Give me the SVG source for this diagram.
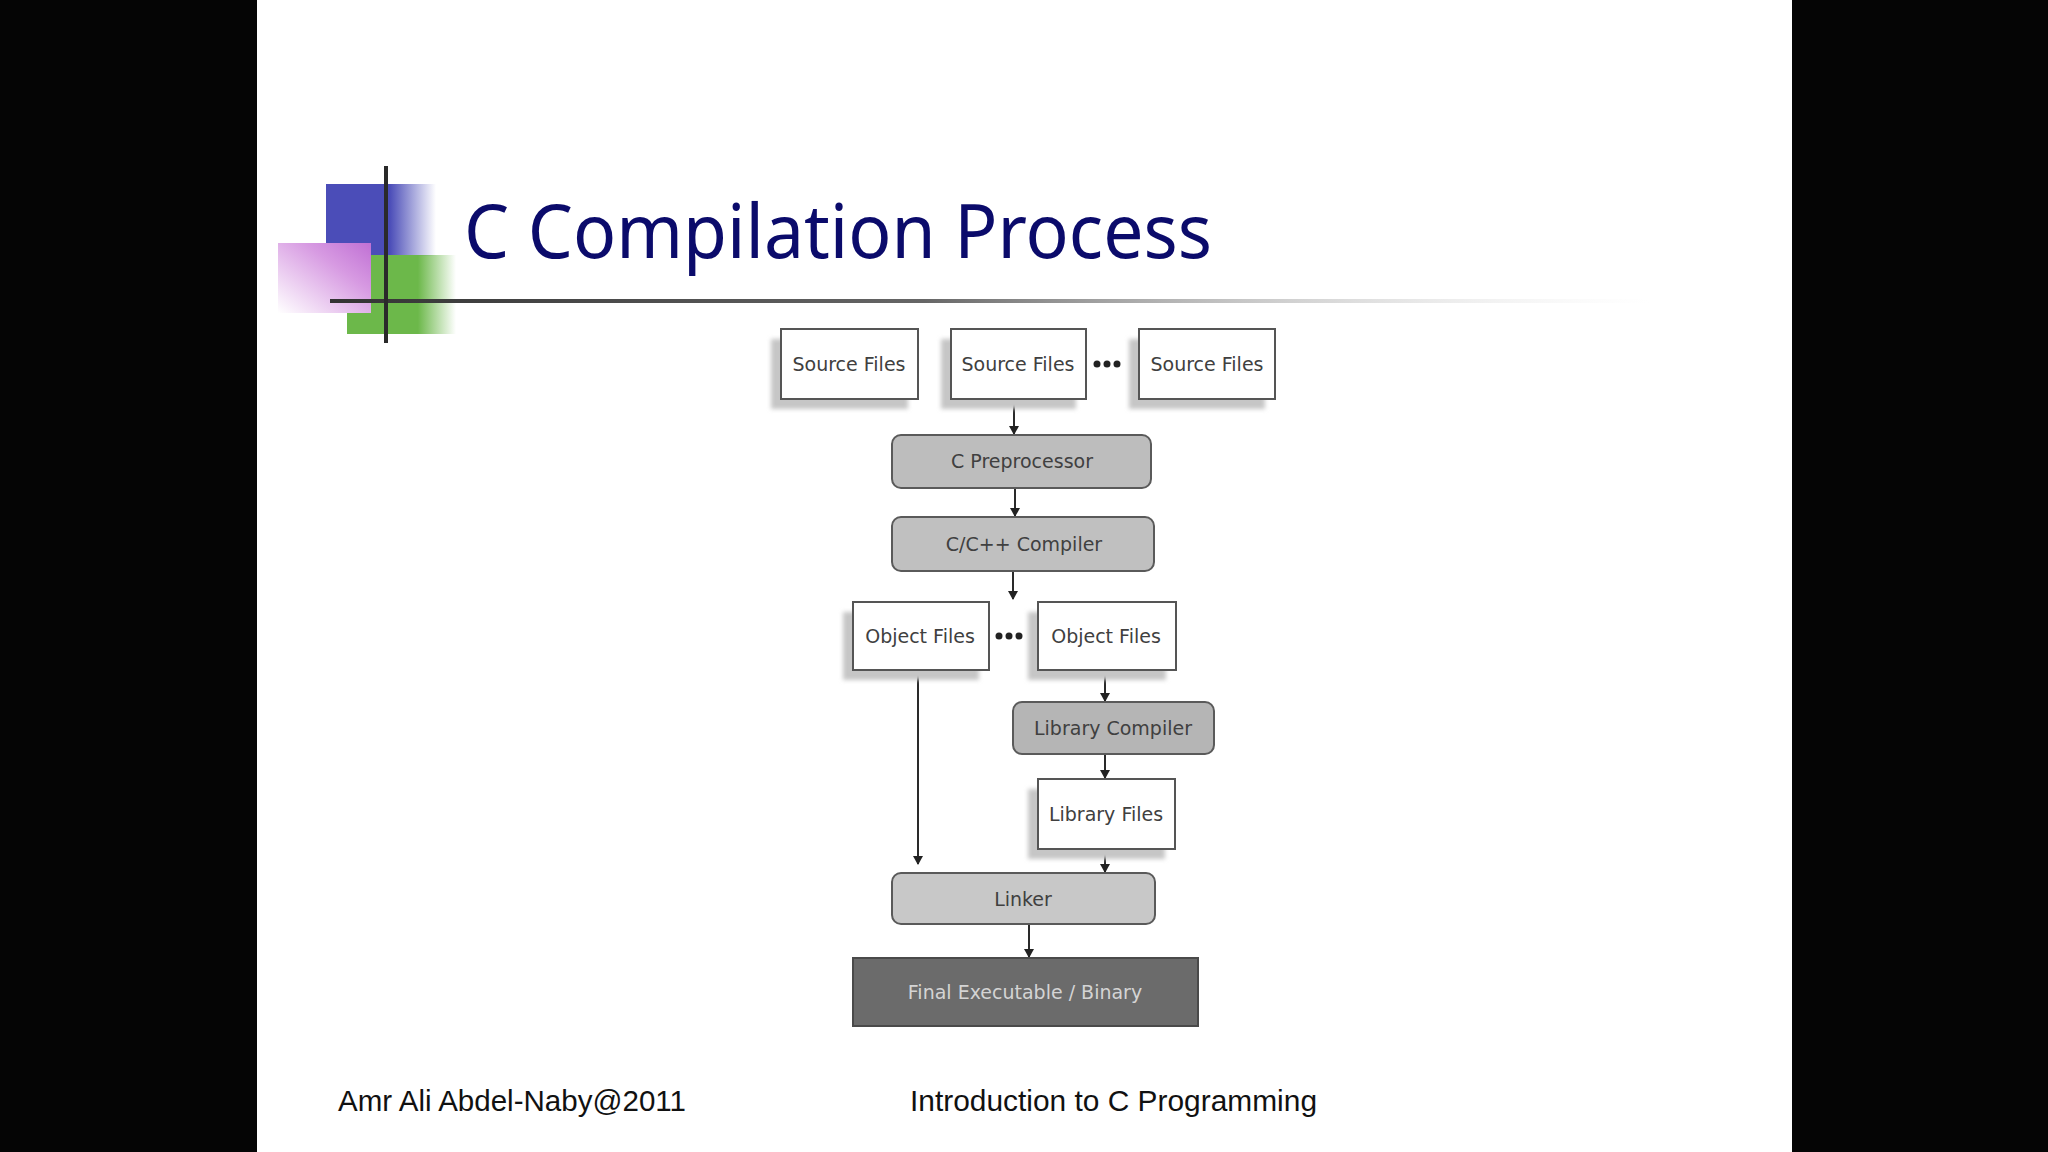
<svg xmlns="http://www.w3.org/2000/svg" width="2048" height="1152" viewBox="0 0 2048 1152">
<defs>
  <style>
    .box{fill:#ffffff;stroke:#555555;stroke-width:2}
    .proc{fill:#bdbdbd;stroke:#5a5a5a;stroke-width:2}
    .shadow{fill:#c6c6c6;filter:url(#blur)}
    .lbl{font-family:"DejaVu Sans",Verdana,sans-serif;font-size:19px;fill:#404040;text-anchor:middle}
    .conn{stroke:#2a2a2a;stroke-width:2;fill:none;marker-end:url(#arr)}
    .dot{fill:#222222}
    .foot{font-family:"Liberation Sans",Arial,sans-serif;font-size:30px;fill:#111111}
  </style>
  <filter id="blur" x="-20%" y="-20%" width="140%" height="140%"><feGaussianBlur stdDeviation="2"/></filter>
  <marker id="arr" markerWidth="10" markerHeight="10" refX="8" refY="5" orient="auto" markerUnits="userSpaceOnUse">
    <path d="M0,0 L9,5 L0,10 z" fill="#222222"/>
  </marker>
  <linearGradient id="gBlue" x1="0" y1="0" x2="1" y2="0">
    <stop offset="0" stop-color="#4b4db8"/>
    <stop offset="0.58" stop-color="#4b4db8"/>
    <stop offset="1" stop-color="#4b4db8" stop-opacity="0"/>
  </linearGradient>
  <linearGradient id="gGreen" x1="0" y1="0" x2="1" y2="0">
    <stop offset="0" stop-color="#6cb84a"/>
    <stop offset="0.65" stop-color="#6cb84a"/>
    <stop offset="1" stop-color="#6cb84a" stop-opacity="0"/>
  </linearGradient>
  <linearGradient id="gPink" x1="1" y1="0" x2="0" y2="1">
    <stop offset="0" stop-color="#c070d4"/>
    <stop offset="0.35" stop-color="#d79ae2"/>
    <stop offset="1" stop-color="#ffffff"/>
  </linearGradient>
  <linearGradient id="gLine" x1="0" y1="0" x2="1" y2="0">
    <stop offset="0" stop-color="#333333"/>
    <stop offset="0.45" stop-color="#666666"/>
    <stop offset="1" stop-color="#dddddd" stop-opacity="0"/>
  </linearGradient>
</defs>

<rect x="0" y="0" width="2048" height="1152" fill="#050505"/>
<rect x="257" y="0" width="1535" height="1152" fill="#ffffff"/>

<g id="decoration">
  <rect x="326" y="184" width="110" height="72" fill="url(#gBlue)"/>
  <rect x="347" y="255" width="109" height="79" fill="url(#gGreen)"/>
  <rect x="278" y="243" width="93" height="70" fill="url(#gPink)"/>
  <rect x="330" y="299" width="1320" height="4" fill="url(#gLine)"/>
  <rect x="384" y="166" width="4" height="177" fill="#2a2a2a"/>
</g>

<g id="title">
  <text x="464" y="258" font-family="'Noto Sans','DejaVu Sans',sans-serif" font-size="74" fill="#0b0b6b" textLength="748" lengthAdjust="spacingAndGlyphs">C Compilation Process</text>
</g>

<g id="connectors">
  <line class="conn" x1="1014" y1="400" x2="1014" y2="434"/>
  <line class="conn" x1="1015" y1="489" x2="1015" y2="516"/>
  <line class="conn" x1="1013" y1="572" x2="1013" y2="599"/>
  <line class="conn" x1="1105" y1="670" x2="1105" y2="701"/>
  <line class="conn" x1="1105" y1="754" x2="1105" y2="778"/>
  <line class="conn" x1="1105" y1="849" x2="1105" y2="872"/>
  <line class="conn" x1="918" y1="670" x2="918" y2="864"/>
  <line class="conn" x1="1029" y1="924" x2="1029" y2="957"/>
  <circle class="dot" cx="1097" cy="364" r="3.5"/>
  <circle class="dot" cx="1107" cy="364" r="3.5"/>
  <circle class="dot" cx="1117" cy="364" r="3.5"/>
  <circle class="dot" cx="999" cy="636" r="3.5"/>
  <circle class="dot" cx="1009" cy="636" r="3.5"/>
  <circle class="dot" cx="1019" cy="636" r="3.5"/>
</g>

<g id="src1">
  <rect class="shadow" x="771" y="339" width="137" height="70"/>
  <rect class="box" x="781" y="329" width="137" height="70"/>
  <text class="lbl" x="849" y="371">Source Files</text>
</g>
<g id="src2">
  <rect class="shadow" x="941" y="339" width="135" height="70"/>
  <rect class="box" x="951" y="329" width="135" height="70"/>
  <text class="lbl" x="1018" y="371">Source Files</text>
</g>
<g id="src3">
  <rect class="shadow" x="1129" y="339" width="136" height="70"/>
  <rect class="box" x="1139" y="329" width="136" height="70"/>
  <text class="lbl" x="1207" y="371">Source Files</text>
</g>
<g id="preprocessor">
  <rect class="proc" x="892" y="435" width="259" height="53" rx="9"/>
  <text class="lbl" x="1022" y="468">C Preprocessor</text>
</g>
<g id="compiler">
  <rect class="proc" x="892" y="517" width="262" height="54" rx="9" style="fill:#c0c0c0"/>
  <text class="lbl" x="1024" y="551">C/C++ Compiler</text>
</g>
<g id="obj1">
  <rect class="shadow" x="843" y="612" width="136" height="68"/>
  <rect class="box" x="853" y="602" width="136" height="68"/>
  <text class="lbl" x="920" y="643">Object Files</text>
</g>
<g id="obj2">
  <rect class="shadow" x="1028" y="612" width="138" height="68"/>
  <rect class="box" x="1038" y="602" width="138" height="68"/>
  <text class="lbl" x="1106" y="643">Object Files</text>
</g>
<g id="libcompiler">
  <rect class="proc" x="1013" y="702" width="201" height="52" rx="9" style="fill:#b5b5b5"/>
  <text class="lbl" x="1113" y="735">Library Compiler</text>
</g>
<g id="libfiles">
  <rect class="shadow" x="1028" y="789" width="137" height="70"/>
  <rect class="box" x="1038" y="779" width="137" height="70"/>
  <text class="lbl" x="1106" y="821">Library Files</text>
</g>
<g id="linker">
  <rect class="proc" x="892" y="873" width="263" height="51" rx="9" style="fill:#c8c8c8"/>
  <text class="lbl" x="1023" y="906">Linker</text>
</g>
<g id="final">
  <rect x="853" y="958" width="345" height="68" fill="#6b6b6b" stroke="#4a4a4a" stroke-width="2"/>
  <text class="lbl" x="1025" y="999" style="fill:#d4d4d4">Final Executable / Binary</text>
</g>

<g id="footer">
  <text class="foot" x="338" y="1111" textLength="348" lengthAdjust="spacingAndGlyphs">Amr Ali Abdel-Naby@2011</text>
  <text class="foot" x="910" y="1111" textLength="407" lengthAdjust="spacingAndGlyphs">Introduction to C Programming</text>
</g>
</svg>
